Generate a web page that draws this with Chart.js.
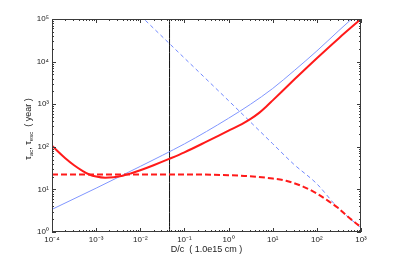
<!DOCTYPE html>
<html>
<head>
<meta charset="utf-8">
<script src="https://cdn.jsdelivr.net/npm/chart.js@4/dist/chart.umd.min.js"></script>
<style>
  html, body { margin: 0; padding: 0; background: #fff; }
  #wrap { width: 399px; height: 262px; }
</style>
</head>
<body>
<div id="wrap"><canvas id="tauChart"></canvas></div>
<script>
/*  Data --------------------------------------------------------------------- */
// tau_ac (red, solid)
const acX = [1e-4, 2e-4, 3.16e-4, 5e-4, 7e-4, 1e-3, 1.6e-3, 2.5e-3, 4e-3, 6.3e-3, 1e-2, 2e-2, 4.5e-2, 0.1, 0.316, 1, 2, 3.16, 5, 7.1, 10, 31.6, 100, 316, 1000];
const acY = [106, 54, 37, 27, 22.4, 20, 18.8, 19.3, 20.9, 24, 28.2, 37, 52, 74, 132, 240, 342, 452, 635, 875, 1230, 3890, 12000, 35500, 100000];

// tau_esc (red, dashed)
const escX = [1e-4, 1e-2, 0.1, 1, 3, 10, 20, 50, 100, 200, 300, 500, 1000];
const escY = [22.5, 22.5, 22.5, 21.5, 20.5, 18, 16, 11.5, 8, 5, 3.7, 2.3, 1.3];

// blue, solid
const blueX = [1e-4, 1e-3, 1e-2, 0.0316, 0.1, 0.316, 1, 3.16, 10, 31.6, 100, 316, 1000];
const blueY = [3.4, 10.7, 34.7, 63, 117, 229, 468, 1000, 2340, 6300, 17800, 53700, 158000];

// blue, dashed
const blueDashX = [0.01, 0.1, 1, 10, 30, 100, 300, 1000];
const blueDashY = [121000, 12100, 1210, 118, 39, 13.5, 3.7, 1.25];

// marker line
const markX = 0.046;

const xTicks = [1e-4, 1e-3, 1e-2, 1e-1, 1, 10, 100, 1000];
const yTicks = [1, 10, 100, 1000, 10000, 100000];

/*  Helpers ------------------------------------------------------------------ */
const SUP = { '-': '⁻', '0': '⁰', '1': '¹', '2': '²', '3': '³', '4': '⁴', '5': '⁵', '6': '⁶', '7': '⁷', '8': '⁸', '9': '⁹' };
function powLabel(v) {
  const e = Math.round(Math.log10(v));
  return '10' + String(e).split('').map((c) => SUP[c]).join('');
}
const pts = (xs, ys) => xs.map((x, i) => ({ x, y: ys[i] }));

// box + inward ticks (matlab look)
const frame = {
  id: 'frame',
  afterDraw(chart) {
    const { ctx, chartArea: a, scales } = chart;
    ctx.save();
    ctx.strokeStyle = '#3a3a3a';
    ctx.lineWidth = 1;
    ctx.strokeRect(a.left + 0.5, a.top + 0.5, a.right - a.left - 1, a.bottom - a.top - 1);
    ctx.beginPath();
    for (let e = -4; e <= 3; e++) {
      for (let k = 1; k <= 9; k++) {
        const v = k * Math.pow(10, e);
        if (v > 1000) break;
        const px = Math.round(scales.x.getPixelForValue(v)) + 0.5;
        const len = k === 1 ? 4 : 2;
        ctx.moveTo(px, a.bottom); ctx.lineTo(px, a.bottom - len);
        ctx.moveTo(px, a.top); ctx.lineTo(px, a.top + len);
      }
    }
    for (let e = 0; e <= 5; e++) {
      for (let k = 1; k <= 9; k++) {
        const v = k * Math.pow(10, e);
        if (v > 100000) break;
        const py = Math.round(scales.y.getPixelForValue(v)) + 0.5;
        const len = k === 1 ? 4 : 2;
        ctx.moveTo(a.left, py); ctx.lineTo(a.left + len, py);
        ctx.moveTo(a.right, py); ctx.lineTo(a.right - len, py);
      }
    }
    ctx.stroke();
    ctx.restore();
  }
};

// y title with subscripts
const yTitle = {
  id: 'yTitle',
  afterDraw(chart) {
    const ctx = chart.ctx;
    const parts = [
      ['τ', 9, 0], ['ac', 6, 2.5], [', ', 9, 0], ['τ', 9, 0], ['esc', 6, 2.5], ['  ( year )', 9, 0]
    ];
    ctx.save();
    ctx.fillStyle = '#222';
    ctx.textBaseline = 'middle';
    let w = 0;
    parts.forEach(([t, s]) => { ctx.font = s + 'px "Liberation Sans", Arial, sans-serif'; w += ctx.measureText(t).width; });
    ctx.translate(29, 129);
    ctx.rotate(-Math.PI / 2);
    let x = -w / 2;
    parts.forEach(([t, s, dy]) => {
      ctx.font = s + 'px "Liberation Sans", Arial, sans-serif';
      ctx.fillText(t, x, dy);
      x += ctx.measureText(t).width;
    });
    ctx.restore();
  }
};

/*  Chart ------------------------------------------------------------------- */
const lineDs = (label, data, color, width, dash) => ({
  label, data,
  showLine: true,
  borderColor: color,
  backgroundColor: color,
  borderWidth: width,
  borderDash: dash || [],
  pointRadius: 0,
  cubicInterpolationMode: 'monotone',
  fill: false,
});

new Chart(document.getElementById('tauChart'), {
  type: 'scatter',
  data: {
    datasets: [
      lineDs('tau_ac', pts(acX, acY), '#ff1a1a', 2),
      lineDs('tau_esc', pts(escX, escY), '#ff1a1a', 2, [6, 3]),
      lineDs('blue', pts(blueX, blueY), '#8096ff', 1),
      lineDs('blue dashed', pts(blueDashX, blueDashY), '#7088ff', 1, [4, 3]),
      lineDs('D/c', pts([markX, markX], [1, 100000]), '#111', 1),
    ],
  },
  options: {
    responsive: true,
    maintainAspectRatio: false,
    animation: false,
    layout: { padding: { top: 19, right: 38, left: 0, bottom: 0 } },
    plugins: { legend: { display: false }, tooltip: { enabled: false } },
    scales: {
      x: {
        type: 'logarithmic',
        min: 1e-4, max: 1000,
        afterBuildTicks: (s) => { s.ticks = xTicks.map((v) => ({ value: v })); },
        afterFit: (s) => { s.height = 30; },
        grid: { display: false, drawTicks: false },
        border: { display: false },
        ticks: {
          autoSkip: false, maxRotation: 0, padding: 3, color: '#222',
          font: { size: 8, family: '"Liberation Sans", Arial, sans-serif' },
          callback: (v) => powLabel(v),
        },
        title: {
          display: true, text: 'D/c  ( 1.0e15 cm )', color: '#222',
          font: { size: 9, family: '"Liberation Sans", Arial, sans-serif' },
          padding: { top: 0, bottom: 7.5 },
        },
      },
      y: {
        type: 'logarithmic',
        min: 1, max: 100000,
        afterBuildTicks: (s) => { s.ticks = yTicks.map((v) => ({ value: v })); },
        afterFit: (s) => { s.width = 52; },
        grid: { display: false, drawTicks: false },
        border: { display: false },
        ticks: {
          autoSkip: false, padding: 3, color: '#222',
          font: { size: 8, family: '"Liberation Sans", Arial, sans-serif' },
          callback: (v) => powLabel(v),
        },
      },
    },
  },
  plugins: [frame, yTitle],
});
</script>
</body>
</html>
